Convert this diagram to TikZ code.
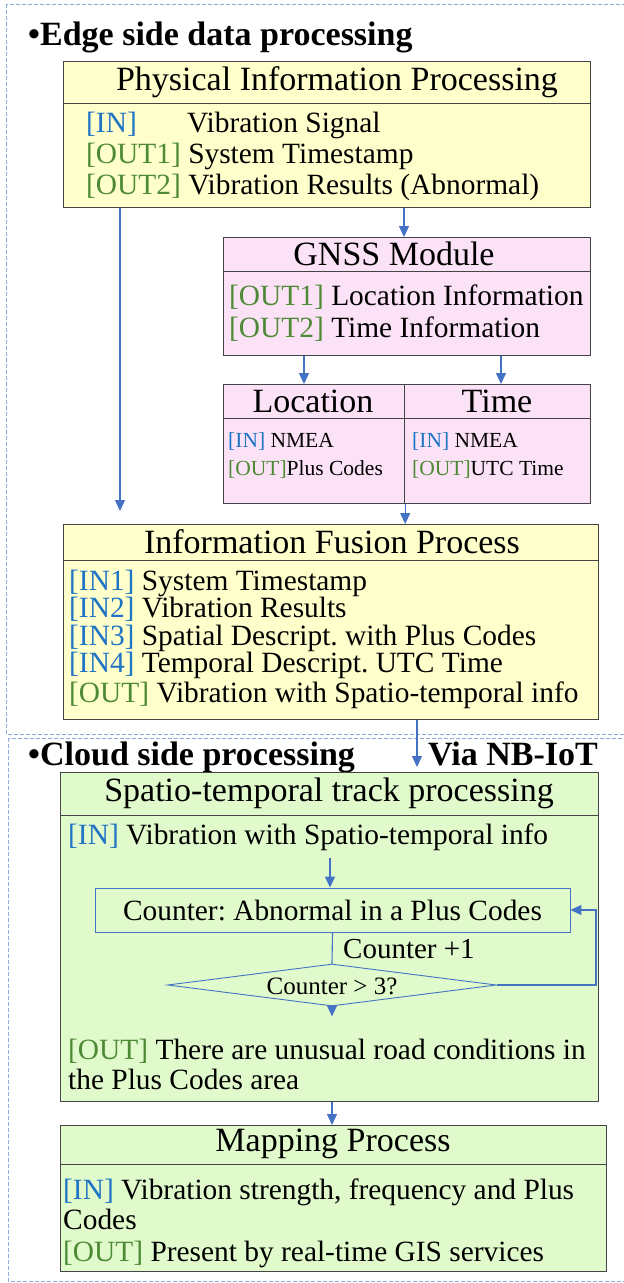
\documentclass[tikz,border=0pt]{standalone}
\usepackage{fontspec}
\setmainfont{Liberation Serif}
\usetikzlibrary{shapes.geometric,arrows.meta,calc}
\frenchspacing

\definecolor{inblue}{HTML}{1F74C4}
\definecolor{outgreen}{HTML}{4E8A35}
\definecolor{edgefill}{HTML}{FFFFCC}
\definecolor{gnssfill}{HTML}{FCE2F6}
\definecolor{cloudfill}{HTML}{E0FACC}
\definecolor{framegray}{HTML}{454545}
\definecolor{flowblue}{HTML}{4472C4}
\definecolor{zoneblue}{HTML}{8FAADC}

\newcommand{\tagin}[1]{\textcolor{inblue}{#1}}
\newcommand{\tagout}[1]{\textcolor{outgreen}{#1}}

\tikzset{
  zone/.style={draw=zoneblue, line width=0.9pt, dash pattern=on 4pt off 2pt},
  headbox/.style={draw=framegray, line width=1.2pt, inner sep=0pt, anchor=north west},
  headtxt/.style={inner sep=0pt, font=\fontsize{34}{36}\selectfont},
  bodybox/.style={draw=framegray, line width=1.2pt, inner sep=0pt, anchor=north west},
  txt/.style={anchor=base west, inner sep=0pt, font=\fontsize{29.4}{31}\selectfont},
  smalltxt/.style={anchor=base west, inner sep=0pt, font=\fontsize{21.5}{23}\selectfont},
  sectitle/.style={anchor=base west, inner sep=0pt, font=\fontsize{34}{36}\selectfont\bfseries},
  flowarrow/.style={draw=flowblue, line width=1.1pt, -{Triangle[length=11pt,width=10pt]}},
  flowline/.style={draw=flowblue, line width=1.1pt},
}

\begin{document}
\begin{tikzpicture}[x=1pt,y=-1pt]
\useasboundingbox (0,0) rectangle (624,1283);
\clip (0,0) rectangle (624,1283);
\fill[white] (0,0) rectangle (624,1283);

% dashed zones: edge side and cloud side
\draw[zone] (6,4) rectangle (660,734);
\draw[zone] (8,738) rectangle (660,1281);

\node[sectitle] (edgetitle) at (28,45) {•Edge side data processing};

% ---------------- Physical information processing ----------------
\node[headbox, fill=edgefill, minimum width=527pt, minimum height=42pt] (phyh) at (63,61) {};
\node[headtxt] (phyt) at (337,82) {Physical Information Processing};
\node[bodybox, fill=edgefill, minimum width=527pt, minimum height=104pt] (phyb) at (63,103) {};
\node[txt] (phy1a) at (86,132) {\tagin{[IN]}};
\node[txt] (phy1b) at (187,132) {Vibration Signal};
\node[txt] (phy2) at (86,163) {\tagout{[OUT1]} System Timestamp};
\node[txt] (phy3) at (86,194) {\tagout{[OUT2]} Vibration Results (Abnormal)};

% ---------------- GNSS module ----------------
\node[headbox, fill=gnssfill, minimum width=367pt, minimum height=34pt] (gnssh) at (223,237) {};
\node[headtxt] (gnsst) at (394,254) {GNSS Module};
\node[bodybox, fill=gnssfill, minimum width=367pt, minimum height=84pt] (gnssb) at (223,271) {};
\node[txt] (gnss1) at (229,305) {\tagout{[OUT1]} Location Information};
\node[txt] (gnss2) at (229,337) {\tagout{[OUT2]} Time Information};

% ---------------- Location / Time ----------------
\node[headbox, fill=gnssfill, minimum width=181pt, minimum height=34pt] (loch) at (223,384) {};
\node[headtxt] (loct) at (313,401) {Location};
\node[headbox, fill=gnssfill, minimum width=186pt, minimum height=34pt] (timh) at (404,384) {};
\node[headtxt] (timt) at (497,401) {Time};
\node[bodybox, fill=gnssfill, minimum width=181pt, minimum height=85pt] (locb) at (223,418) {};
\node[bodybox, fill=gnssfill, minimum width=186pt, minimum height=85pt] (timb) at (404,418) {};
\node[smalltxt] (loc1) at (228,447) {\tagin{[IN]} NMEA};
\node[smalltxt] (loc2) at (228,475) {\tagout{[OUT]}Plus Codes};
\node[smalltxt] (tim1) at (412,447) {\tagin{[IN]} NMEA};
\node[smalltxt] (tim2) at (412,475) {\tagout{[OUT]}UTC Time};

% ---------------- Information fusion ----------------
\node[headbox, fill=edgefill, minimum width=535pt, minimum height=36pt] (fush) at (63,524) {};
\node[headtxt] (fust) at (332,542) {Information Fusion Process};
\node[bodybox, fill=edgefill, minimum width=535pt, minimum height=159pt] (fusb) at (63,560) {};
\node[txt] (fus1) at (69,590) {\tagin{[IN1]} System Timestamp};
\node[txt] (fus2) at (69,617.5) {\tagin{[IN2]} Vibration Results};
\node[txt] (fus3) at (69,645) {\tagin{[IN3]} Spatial Descript. with Plus Codes};
\node[txt] (fus4) at (69,672.5) {\tagin{[IN4]} Temporal Descript. UTC Time};
\node[txt] (fus5) at (69,702) {\tagout{[OUT]} Vibration with Spatio-temporal info};

% ---------------- Cloud side ----------------
\node[sectitle] (cloudtitle) at (28,765) {•Cloud side processing};
\node[sectitle, anchor=base east] (nbiot) at (598,765) {Via NB-IoT};

\node[headbox, fill=cloudfill, minimum width=538pt, minimum height=43pt] (spah) at (60,772) {};
\node[headtxt] (spat) at (329,793) {Spatio-temporal track processing};
\node[bodybox, fill=cloudfill, minimum width=538pt, minimum height=286pt] (spab) at (60,815) {};
\node[txt] (spa1) at (68,844) {\tagin{[IN]} Vibration with Spatio-temporal info};
\node[draw=flowblue, line width=0.9pt, minimum width=475pt, minimum height=44pt, inner sep=0pt,
  font=\fontsize{29.4}{31}\selectfont] (cnt) at (332.5,910) {Counter: Abnormal in a Plus Codes};
\node[draw=flowblue, line width=0.9pt, shape=diamond, aspect=7.8, inner sep=0pt,
  minimum width=329pt, minimum height=42pt] (dia) at (332,985) {};
\node[inner sep=0pt, font=\fontsize{25}{27}\selectfont] (diatext) at (332,986) {Counter > 3?};
\node[anchor=base west, inner sep=0pt, font=\fontsize{29}{31}\selectfont] (inc) at (343,958) {Counter +1};
\node[txt] (spa2) at (68,1059) {\tagout{[OUT]} There are unusual road conditions in};
\node[txt] (spa3) at (68,1089) {the Plus Codes area};

% ---------------- Mapping ----------------
\node[headbox, fill=cloudfill, minimum width=546pt, minimum height=39pt] (maph) at (60,1125) {};
\node[headtxt] (mapt) at (333,1144) {Mapping Process};
\node[bodybox, fill=cloudfill, minimum width=546pt, minimum height=107pt] (mapb) at (60,1164) {};
\node[txt] (map1) at (63,1199) {\tagin{[IN]} Vibration strength, frequency and Plus};
\node[txt] (map2) at (63,1229) {Codes};
\node[txt] (map3) at (63,1261) {\tagout{[OUT]} Present by real-time GIS services};

% ---------------- connectors ----------------
\coordinate (xleft) at (120,0);
\coordinate (xmid) at (404,0);
\coordinate (xloc) at (304,0);
\coordinate (xtime) at (501,0);
\coordinate (xnb) at (417,0);
\coordinate (xcnt) at (330,0);
\coordinate (xloop) at (596,0);
\coordinate (xmap) at (332,0);

\draw[flowarrow, shorten >=13pt] (phyb.south -| xleft) -- (fush.north -| xleft);
\draw[flowarrow] (phyb.south -| xmid) -- (gnssh.north -| xmid);
\draw[flowarrow] (gnssb.south -| xloc) -- (loch.north -| xloc);
\draw[flowarrow] (gnssb.south -| xtime) -- (timh.north -| xtime);
\draw[flowarrow] (locb.south east) -- (fush.north -| locb.south east);
\draw[flowarrow, shorten >=5pt] (fusb.south -| xnb) -- (spah.north -| xnb);
\draw[flowarrow, shorten <=8pt] (spa1.south -| xcnt) -- (cnt.north -| xcnt);
\draw[flowline] (cnt.south) -- (dia.north);
\draw[flowarrow] (dia.east) -- (dia.east -| xloop) |- (cnt.east);
\draw[flowarrow, shorten >=22pt] (dia.south) -- (spa2.north -| dia.south);
\draw[flowarrow] (spab.south -| xmap) -- (maph.north -| xmap);
\end{tikzpicture}
\end{document}
